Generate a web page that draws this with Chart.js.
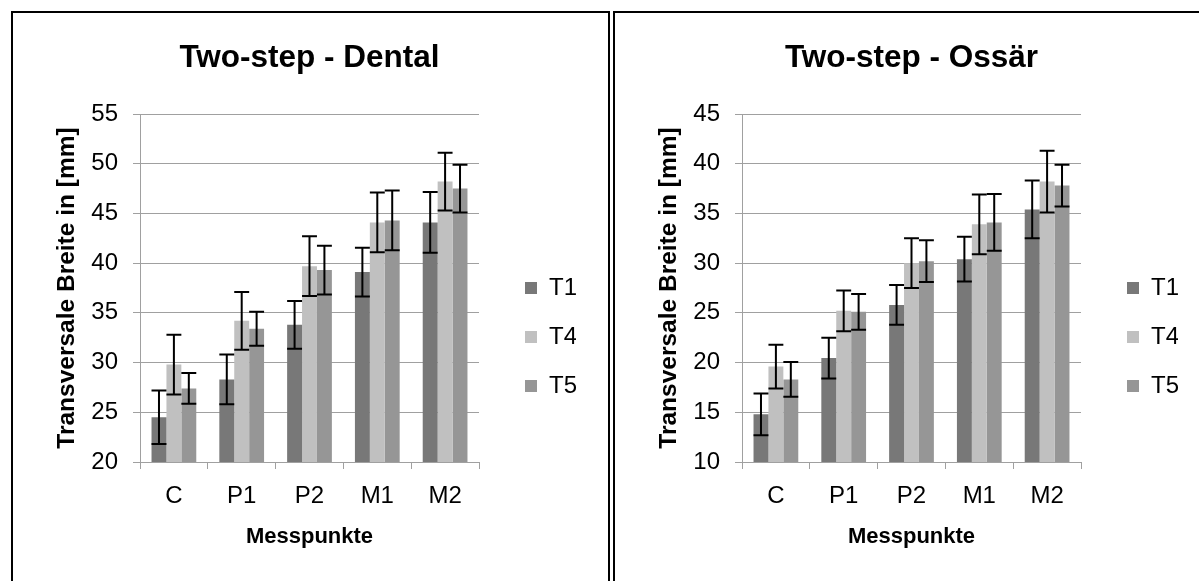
<!DOCTYPE html>
<html><head><meta charset="utf-8">
<script src="https://cdn.jsdelivr.net/npm/chart.js@4.4.1/dist/chart.umd.min.js"></script>
<style>
html,body{margin:0;padding:0;background:#fff;overflow:hidden;width:1199px;height:581px;}
.panel{position:absolute;box-sizing:border-box;border:2px solid #000;}
#p1{left:11px;top:11px;width:599px;height:700px;}
#p2{left:613px;top:11px;width:700px;height:700px;}
canvas{position:absolute;}
#c1{left:13px;top:13px;}
#c2{left:615px;top:13px;}
</style></head><body>
<div class="panel" id="p1"></div><div class="panel" id="p2"></div>
<canvas id="c1" width="563" height="568"></canvas>
<canvas id="c2" width="563" height="568"></canvas>
<script>
const categories = ['C', 'P1', 'P2', 'M1', 'M2'];
const seriesNames = ['T1', 'T4', 'T5'];
const seriesColors = ['#787878', '#c0c0c0', '#969696'];

const dentalT1 = [24.5, 28.3, 33.8, 39.1, 44.1];
const dentalT4 = [29.8, 34.2, 39.7, 44.1, 48.2];
const dentalT5 = [27.4, 33.4, 39.3, 44.3, 47.5];
const dentalErrT1 = [2.7, 2.5, 2.4, 2.45, 3.05];
const dentalErrT4 = [3.0, 2.9, 3.0, 3.0, 2.9];
const dentalErrT5 = [1.55, 1.7, 2.45, 3.0, 2.4];
const dentalTicks = [20, 25, 30, 35, 40, 45, 50, 55];

const ossarT1 = [14.8, 20.45, 25.8, 30.4, 35.4];
const ossarT4 = [19.6, 25.2, 30.0, 33.9, 38.2];
const ossarT5 = [18.3, 25.1, 30.2, 34.1, 37.8];
const ossarErrT1 = [2.1, 2.05, 2.0, 2.25, 2.9];
const ossarErrT4 = [2.2, 2.05, 2.5, 3.0, 3.1];
const ossarErrT5 = [1.75, 1.8, 2.1, 2.85, 2.1];
const ossarTicks = [10, 15, 20, 25, 30, 35, 40, 45];

const FONT = "'Liberation Sans', Arial, sans-serif";

const errorBars = {
  id: 'errorBars',
  afterDatasetsDraw(chart) {
    const ctx = chart.ctx;
    const ys = chart.scales.y;
    ctx.save();
    ctx.strokeStyle = '#000';
    ctx.lineWidth = 2;
    chart.data.datasets.forEach((ds, i) => {
      const meta = chart.getDatasetMeta(i);
      meta.data.forEach((bar, j) => {
        const v = ds.data[j], e = ds.errors[j];
        const yt = ys.getPixelForValue(v + e);
        const yb = ys.getPixelForValue(v - e);
        const x = bar.x, hw = bar.width / 2;
        ctx.beginPath();
        ctx.moveTo(x, yt); ctx.lineTo(x, yb);
        ctx.moveTo(x - hw, yt); ctx.lineTo(x + hw, yt);
        ctx.moveTo(x - hw, yb); ctx.lineTo(x + hw, yb);
        ctx.stroke();
      });
    });
    ctx.restore();
  }
};

function makeChart(id, title, vals, errs, ticks) {
  new Chart(document.getElementById(id), {
    type: 'bar',
    data: {
      labels: categories,
      datasets: seriesNames.map((n, i) => ({
        label: n, data: vals[i], errors: errs[i],
        backgroundColor: seriesColors[i], borderWidth: 0,
        barPercentage: 1, categoryPercentage: 0.66
      }))
    },
    options: {
      responsive: false, animation: false, devicePixelRatio: 1,
      layout: { padding: 0 },
      plugins: {
        title: {
          display: true, text: title, color: '#000', fullSize: false,
          font: { family: FONT, size: 31.5, weight: 'bold' },
          padding: { top: 26, bottom: 37.2 }
        },
        legend: {
          position: 'right', align: 'start', fullSize: false, maxWidth: 76,
          title: { display: true, text: ' ', font: { size: 10 }, padding: { top: 0, bottom: 125 } },
          labels: {
            boxWidth: 12, boxHeight: 12, padding: 25, color: '#000',
            font: { family: FONT, size: 24 }
          }
        },
        tooltip: { enabled: false }
      },
      scales: {
        x: {
          grid: { display: true, drawOnChartArea: false, drawTicks: true, tickLength: 7, color: '#a0a0a0', offset: true },
          border: { display: true, color: '#a0a0a0', width: 1 },
          ticks: { color: '#000', padding: 13, font: { family: FONT, size: 24 } },
          title: { display: true, text: 'Messpunkte', color: '#000', font: { family: FONT, size: 22, weight: 'bold' }, padding: { top: 0, bottom: 31 } },
          afterFit(s) { s.height = 119; }
        },
        y: {
          min: ticks[0], max: ticks[ticks.length - 1],
          grid: { color: '#a0a0a0', tickLength: 7, lineWidth: 1 },
          border: { display: true, color: '#a0a0a0', width: 1 },
          ticks: { stepSize: 5, color: '#000', padding: 15, font: { family: FONT, size: 24 } },
          title: { display: true, text: 'Transversale Breite in [mm]', color: '#000', font: { family: FONT, size: 24.5, weight: 'bold' }, padding: { top: 39.3, bottom: 0 } },
          afterFit(s) { s.width = 127; }
        },
        gap: {
          type: 'linear', position: 'right', display: true,
          grid: { display: false, drawTicks: false },
          ticks: { display: false },
          border: { display: false },
          afterFit(s) { s.width = 21; }
        }
      }
    },
    plugins: [errorBars]
  });
}

makeChart('c1', 'Two-step - Dental', [dentalT1, dentalT4, dentalT5], [dentalErrT1, dentalErrT4, dentalErrT5], dentalTicks);
makeChart('c2', 'Two-step - Ossär', [ossarT1, ossarT4, ossarT5], [ossarErrT1, ossarErrT4, ossarErrT5], ossarTicks);
</script>
</body></html>
